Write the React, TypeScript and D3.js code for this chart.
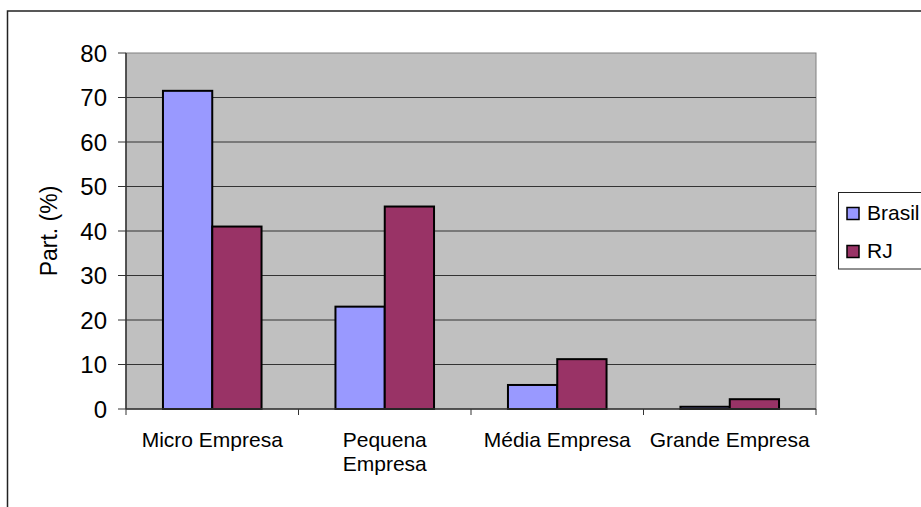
import React from 'react';
import * as d3 from 'd3';

// Company size categories
const categories = ['Micro Empresa', 'Pequena Empresa', 'Média Empresa', 'Grande Empresa'];
const categoryLines = [['Micro Empresa'], ['Pequena', 'Empresa'], ['Média Empresa'], ['Grande Empresa']];

// Series (participation, %)
const seriesNames = ['Brasil', 'RJ'];
const brasilValues = [71.5, 23.0, 5.4, 0.5];
const rjValues = [41.0, 45.5, 11.2, 2.2];
const seriesColors = ['#9999ff', '#993366'];

const yTicks = [0, 10, 20, 30, 40, 50, 60, 70, 80];

const FONT = 'Arial, "Liberation Sans", sans-serif';

const App = () => {
  const width = 921;
  const height = 507;
  const plot = { left: 126, right: 816, top: 53, bottom: 409 };

  const y = d3.scaleLinear().domain([0, 80]).range([plot.bottom, plot.top]);
  const x0 = d3.scaleBand().domain(categories).range([plot.left, plot.right]).padding(0);
  const x1 = d3.scaleBand().domain(seriesNames).range([0, x0.bandwidth()]).paddingInner(0).paddingOuter(0.75);

  const allValues = [brasilValues, rjValues];
  const boundaries = [...categories.map(c => x0(c)), plot.right];

  return (
    <svg width={width} height={height} style={{ position: 'absolute', left: 0, top: 0, background: '#fff' }}>
      {/* outer chart frame */}
      <rect x={7.5} y={11} width={width + 20} height={height + 20} fill="#fff" stroke="#222" strokeWidth={1.5} />

      {/* plot area */}
      <rect x={plot.left} y={plot.top} width={plot.right - plot.left} height={plot.bottom - plot.top}
        fill="#c0c0c0" stroke="#808080" strokeWidth={1} />

      {/* gridlines */}
      {yTicks.filter(t => t > 0 && t < 80).map(t => (
        <line key={t} x1={plot.left} x2={plot.right} y1={y(t)} y2={y(t)} stroke="#333" strokeWidth={1} />
      ))}

      {/* bars */}
      {categories.map((c, i) => (
        <g key={c} transform={`translate(${x0(c)},0)`}>
          {seriesNames.map((s, j) => (
            <rect key={s} x={x1(s)} y={y(allValues[j][i])} width={x1.bandwidth()}
              height={plot.bottom - y(allValues[j][i])}
              fill={seriesColors[j]} stroke="#000" strokeWidth={2} />
          ))}
        </g>
      ))}

      {/* y axis */}
      <line x1={plot.left} x2={plot.left} y1={plot.top} y2={plot.bottom} stroke="#333" strokeWidth={1.5} />
      {yTicks.map(t => (
        <g key={t}>
          <line x1={plot.left - 8} x2={plot.left} y1={y(t)} y2={y(t)} stroke="#333" strokeWidth={1} />
          <text x={plot.left - 19} y={y(t)} dy="0.36em" textAnchor="end"
            fontFamily={FONT} fontSize={24} fill="#000">{t}</text>
        </g>
      ))}

      {/* x axis */}
      <line x1={plot.left} x2={plot.right} y1={plot.bottom} y2={plot.bottom} stroke="#333" strokeWidth={1.5} />
      {boundaries.map((bx, i) => (
        <line key={i} x1={bx} x2={bx} y1={plot.bottom} y2={plot.bottom + 6} stroke="#333" strokeWidth={1} />
      ))}
      {categories.map((c, i) => (
        <text key={c} x={x0(c) + x0.bandwidth() / 2} y={446.5} textAnchor="middle"
          fontFamily={FONT} fontSize={21} fill="#000">
          {categoryLines[i].map((ln, k) => (
            <tspan key={k} x={x0(c) + x0.bandwidth() / 2} dy={k === 0 ? 0 : 24}>{ln}</tspan>
          ))}
        </text>
      ))}

      {/* y axis title */}
      <text transform={`translate(57,${(plot.top + plot.bottom) / 2}) rotate(-90)`} textAnchor="middle"
        fontFamily={FONT} fontSize={23} fill="#000">Part. (%)</text>

      {/* legend */}
      <rect x={838.5} y={192.5} width={120} height={76.5} fill="#fff" stroke="#222" strokeWidth={1} />
      {seriesNames.map((s, j) => (
        <g key={s} transform={`translate(847,${207.5 + j * 38})`}>
          <rect x={0} y={0} width={12} height={12} fill={seriesColors[j]} stroke="#000" strokeWidth={1.5} />
          <text x={20} y={12} fontFamily={FONT} fontSize={21} fill="#000">{s}</text>
        </g>
      ))}
    </svg>
  );
};

export default App;
